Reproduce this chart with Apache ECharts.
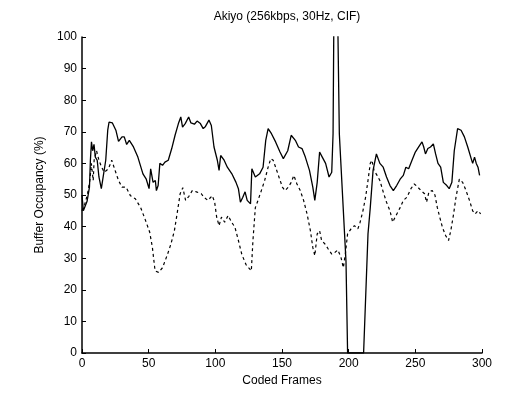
<!DOCTYPE html>
<html>
<head>
<meta charset="utf-8">
<script src="https://cdn.jsdelivr.net/npm/echarts@6/dist/echarts.min.js"></script>
<style>html,body{margin:0;padding:0;background:#fff;}#c{width:531px;height:394px;}</style>
</head>
<body>
<div id="c"></div>
<script>
var titleText = 'Akiyo (256kbps, 30Hz, CIF)';
var xName = 'Coded Frames';
var yName = 'Buffer Occupancy (%)';
var xTicks = [0, 50, 100, 150, 200, 250, 300];
var yTicks = [0, 10, 20, 30, 40, 50, 60, 70, 80, 90, 100];

var solidFrames = [0,1,2,3.8,5.6,6.3,7.1,8,9,10,11.4,12.7,14.5,16,17.8,19.3,20.3,22.8,25.4,27.4,30,31.7,33.5,35.5,38.6,41.9,45.7,48.2,50.3,51.5,53.3,55,55.8,57.1,58.4,60.4,62.2,64.7,67.3,69.8,72.3,74.1,75.4,77.4,80,81.7,84.3,86.3,88.8,90.9,92.6,95.2,97,99,101.5,102.8,104,106.6,109,112.4,115.5,117.3,118.8,120.6,122.3,123.9,126.4,127.4,130,133.2,135.8,137.8,139.6,142.1,145.2,148.5,151,154.3,156.9,160,162.4,165,167.5,170.6,173.1,174.6,176.4,178.2,180.2,182.7,185.3,187.3,188.3,189.3,191,193,198,199.2,211.2,214.5,216.2,218.3,220.8,223.4,225.9,228.4,231,233.5,236,238.6,241,242.9,245,247.5,250,252.5,255,256.3,257.6,259.4,261.4,263.5,265.2,267,269,271,273.6,275.4,277.4,279.2,281.7,284.3,286.8,289.3,291.9,293,294.4,295.7,297,298.2];
var solidOcc = [50,45,45.5,48,52.5,61,66.8,64,66,62,61,55.7,52,52,61,70.5,73.1,72.8,70.5,67,68.4,68.4,66,67.3,65.2,62,56.7,55,52,58.3,54,54.6,51.4,53,60,59.4,60.4,61,64.7,68.9,72.6,74.7,71.5,72.6,74.7,72.8,72.4,73.4,72.6,71,71.7,73.7,72,65.2,61,57.8,62.5,61,58.8,56.7,54,52,47.7,49.3,51,48.3,47.2,58.3,55.7,56.7,58.8,67.3,71,69.4,66.8,63.6,61.5,64,68.9,67.3,65.2,64.7,62,57.8,52.5,48.3,54,63.6,62,60,55.7,57.2,69.4,130,130,69.4,29,0,0,37.7,46,57.8,63,60,58.8,55.7,53,51.4,53,55,56.2,58.8,58.3,61,63.6,65.2,66.8,65.2,63,64.7,65.2,66.2,63,60,58.8,54,53,52,54,64,71,70.5,68.4,65.2,61.5,60,62,60,58.8,56.2];

var dashedFrames = [0,2,4,6,7,8.4,9.1,10.9,12.7,14.7,16.7,19.8,22.3,24.8,27.4,30,33,36.3,40,44,47.7,50.8,52.8,54.8,57.4,60.4,64.2,66.7,69.3,71.3,73.6,75.6,77.7,80.2,82.7,85.8,89.5,91.4,94.4,97.7,99.5,101,102.8,104.6,107,109.6,112.2,114.7,117.3,119.8,121.8,123,124.9,127,128.2,130,132,134.5,137,139.6,141.6,143.4,145.2,147.7,150.3,152.3,154.8,156.9,158.9,161.2,163.7,166.2,168.8,171.3,173.1,174.6,176.4,178.2,179.7,182.2,184.7,187.3,189.8,191.9,194.2,196,197.5,199.2,201.8,204.3,206.9,208.6,210.7,212.7,214.5,216.2,217.5,219,221.3,223.4,225.9,228.4,231,233,235.5,238.6,241,243.7,246.7,249.2,251.8,254.3,256.9,258.4,260.2,262.7,264.7,266.5,268.3,270.3,272.8,274.9,276.6,278.7,280.5,283,285.5,288,290.6,293,294.9,297,299];
var dashedOcc = [45,47,50,55,60,54.6,61,64,61,58.8,57.2,58.3,61,57.8,54.6,52.5,52.5,49.8,48.8,46,41.9,38.2,33.4,26,25.5,27,31.3,34.5,38.7,44,50.4,52.3,48.3,49.6,51.4,51,50.4,49.3,48.3,49.8,47.7,43,40.3,43,41.4,43.5,41.4,39.8,35.6,31.3,29.2,28,27,26,35.6,46,48.3,51.4,54.6,58.8,61.5,61,58.8,55.7,52.5,51.4,52.5,54,56.2,53.5,51.4,48.3,44,38.7,33.4,30.8,37.7,38.7,35.6,34.5,32.9,31.3,31.9,32.6,30.3,27,31.3,37.7,39.3,40.3,39.3,41.4,45,49.3,54.6,60,61,57.8,56.2,54.6,51,47.7,45,41.4,43.5,46,48.3,49.3,52,53.5,52.5,51.4,50.4,47.7,51,51.4,50,46,43,39.8,37.1,35.6,38.7,44,49.3,55,54,51.4,48.3,45,44,45,44];

function pairs(xs, ys) { return xs.map(function (x, i) { return [x, ys[i]]; }); }

var font = 'Liberation Sans, Arial, sans-serif';
var chart = echarts.init(document.getElementById('c'), null, { renderer: 'canvas' });
chart.setOption({
  backgroundColor: '#ffffff',
  animation: false,
  title: {
    text: titleText, left: 282, top: 6, textAlign: 'center',
    textStyle: { fontFamily: font, fontSize: 12, fontWeight: 'normal', color: '#000' }
  },
  grid: { left: 82, right: 49, top: 37, bottom: 41, containLabel: false },
  xAxis: {
    type: 'value', min: xTicks[0], max: xTicks[xTicks.length - 1], interval: 50,
    name: xName, nameLocation: 'middle', nameGap: 21,
    nameTextStyle: { fontFamily: font, fontSize: 12, color: '#000' },
    axisLine: { show: true, lineStyle: { color: '#000', width: 1.5 } },
    axisTick: { show: true, inside: true, length: 4, lineStyle: { color: '#000' } },
    axisLabel: { fontFamily: font, fontSize: 12, color: '#000', margin: 5 },
    splitLine: { show: false }
  },
  yAxis: {
    type: 'value', min: yTicks[0], max: yTicks[yTicks.length - 1], interval: 10,
    name: yName, nameLocation: 'middle', nameGap: 24,
    nameTextStyle: { fontFamily: font, fontSize: 12, color: '#000' },
    axisLine: { show: true, lineStyle: { color: '#000', width: 1.5 } },
    axisTick: { show: true, inside: true, length: 4, lineStyle: { color: '#000' } },
    axisLabel: { fontFamily: font, fontSize: 12, color: '#000', margin: 5 },
    splitLine: { show: false }
  },
  series: [
    {
      type: 'line', data: pairs(solidFrames, solidOcc), showSymbol: false, clip: true,
      lineStyle: { color: '#000', width: 1.3, type: 'solid' }
    },
    {
      type: 'line', data: pairs(dashedFrames, dashedOcc), showSymbol: false, clip: true,
      lineStyle: { color: '#000', width: 1.2, type: [3, 3] }
    }
  ]
});
</script>
</body>
</html>
